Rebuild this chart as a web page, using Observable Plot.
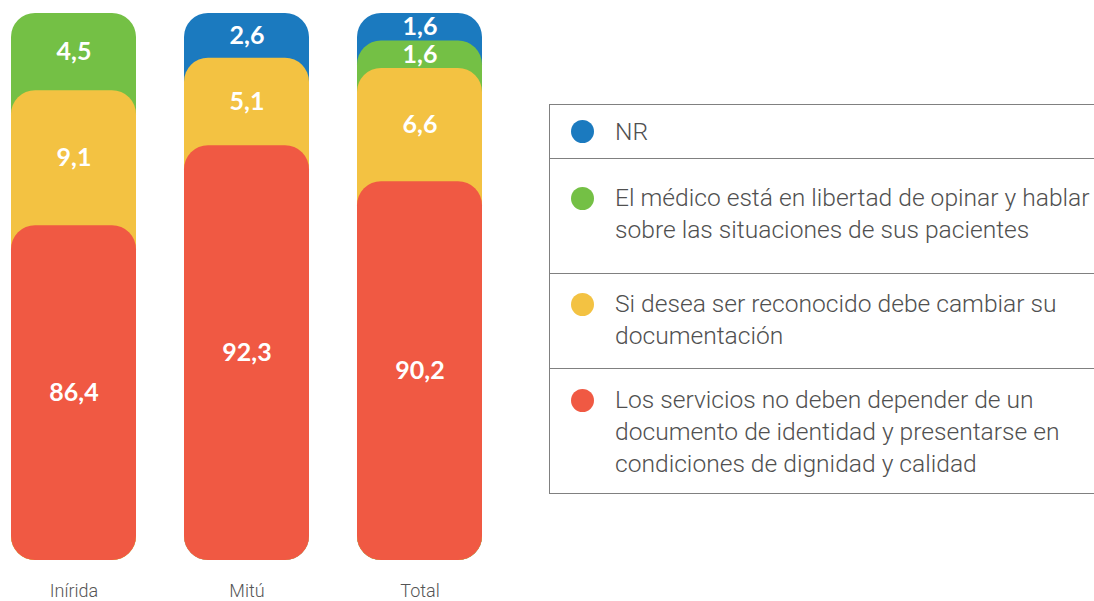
<!DOCTYPE html>
<html>
<head>
<meta charset="utf-8">
<script src="https://cdn.jsdelivr.net/npm/d3@7"></script>
<script src="https://cdn.jsdelivr.net/npm/@observablehq/plot@0.6"></script>
<style>
  html, body { margin: 0; padding: 0; background: #fff; }
  #wrap { position: relative; width: 1094px; height: 601px; overflow: hidden; }
  #wrap svg { position: absolute; left: 0; top: 0; }
  #wrap svg g[aria-label="x-axis tick label"] text { font-weight: 300; }
  .legend { position: absolute; left: 549px; top: 104px; width: 560px; border-top: 1.5px solid #808080; border-left: 1.5px solid #808080; font-family: Roboto, sans-serif; font-weight: 300; color: #505050; }
  .row { position: relative; border-bottom: 1.5px solid #808080; box-sizing: border-box; }
  .dot { position: absolute; left: 21px; width: 23px; height: 23px; border-radius: 50%; }
  .txt { position: absolute; left: 65px; font-size: 24.6px; line-height: 32px; white-space: nowrap; }
</style>
</head>
<body>
<div id="wrap"></div>
<script>
// ---- data ----
const categories = ["Inírida", "Mitú", "Total"];
const seriesNames = [
  "NR",
  "El médico está en libertad de opinar y hablar sobre las situaciones de sus pacientes",
  "Si desea ser reconocido debe cambiar su documentación",
  "Los servicios no deben depender de un documento de identidad y presentarse en condiciones de dignidad y calidad"
];
const legendLines = [
  ["NR"],
  ["El médico está en libertad de opinar y hablar", "sobre las situaciones de sus pacientes"],
  ["Si desea ser reconocido debe cambiar su", "documentación"],
  ["Los servicios no deben depender de un", "documento de identidad y presentarse en", "condiciones de dignidad y calidad"]
];
const nr        = [0, 2.6, 1.6];
const medico    = [4.5, 0, 1.6];
const cambiar   = [9.1, 5.1, 6.6];
const servicios = [86.4, 92.3, 90.2];
const seriesColors = ["#1b7abf", "#74c045", "#f3c242", "#f05943"];

// ---- build stacked rows (bottom: servicios ... top: NR) ----
const stackOrder = [[3, servicios], [2, cambiar], [1, medico], [0, nr]];
const rows = [];
categories.forEach((cat, i) => {
  let cum = 0;
  for (const [s, arr] of stackOrder) {
    const v = arr[i];
    if (!v) continue;
    rows.push({cat, series: seriesNames[s], value: v, lo: cum, hi: cum + v});
    cum += v;
  }
});
// draw top segments first so lower ones overlap them
rows.sort((a, b) => d3.descending(a.hi, b.hi));

// broken value axis as in the original design: 0–88 compressed, 88–100 expanded
const brk = d3.scaleLinear().domain([0, 88, 100]).range([0, 62.34, 100]);
rows.forEach(d => {
  d.mid = brk.invert((brk(d.lo) + brk(d.hi)) / 2);
});
const fmt = v => v.toFixed(1).replace(".", ",");

const chart = Plot.plot({
  width: 1094,
  height: 601,
  marginLeft: 10,
  marginRight: 612,
  marginTop: 13,
  marginBottom: 41,
  style: {fontFamily: "Roboto, sans-serif", fontSize: "18px", color: "#555", background: "transparent"},
  x: {domain: categories, paddingInner: 0.28, paddingOuter: 0, label: null, tickSize: 0, tickPadding: 24},
  y: {domain: [0, 100], transform: brk, axis: null},
  color: {domain: seriesNames, range: seriesColors},
  marks: [
    Plot.barY(rows, {x: "cat", y1: () => 0, y2: "hi", fill: "series", rx: 24}),
    Plot.text(rows, {x: "cat", y: "mid", text: d => fmt(d.value), fill: "white",
      fontSize: 25, fontWeight: 700, fontFamily: "Lato, sans-serif"})
  ]
});
const wrap = document.getElementById("wrap");
wrap.appendChild(chart);

// ---- legend (HTML) ----
const rowLayout = [
  {h: 54, dot: 26, txt: 11},
  {h: 115, dot: 39, txt: 23},
  {h: 95, dot: 30, txt: 14},
  {h: 125, dot: 31, txt: 15}
];
const legend = document.createElement("div");
legend.className = "legend";
seriesNames.forEach((name, i) => {
  const r = document.createElement("div");
  r.className = "row";
  r.style.height = rowLayout[i].h + "px";
  const dot = document.createElement("div");
  dot.className = "dot";
  dot.style.background = seriesColors[i];
  dot.style.top = (rowLayout[i].dot - 11.5) + "px";
  const t = document.createElement("div");
  t.className = "txt";
  t.style.top = rowLayout[i].txt + "px";
  t.innerHTML = legendLines[i].join("<br>");
  r.appendChild(dot);
  r.appendChild(t);
  legend.appendChild(r);
});
wrap.appendChild(legend);
</script>
</body>
</html>
